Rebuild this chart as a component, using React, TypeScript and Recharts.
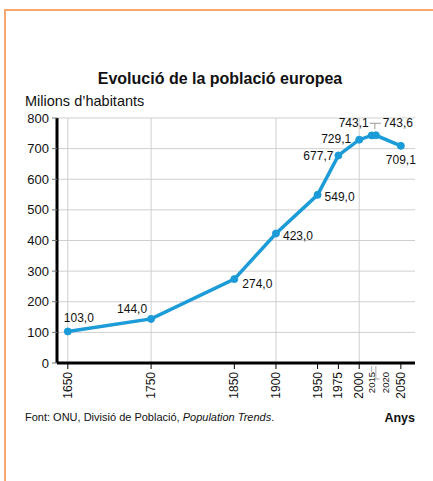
import React from "react";
import {
  LineChart,
  Line,
  XAxis,
  YAxis,
  CartesianGrid,
  LabelList,
  ReferenceLine,
} from "recharts";

const years = [1650, 1750, 1850, 1900, 1950, 1975, 2000, 2015, 2020, 2050];
const population = [103.0, 144.0, 274.0, 423.0, 549.0, 677.7, 729.1, 743.1, 743.6, 709.1];
const yTicks = [0, 100, 200, 300, 400, 500, 600, 700, 800];
const gridYears = [1650, 1750, 1900, 2000];
const smallYears = [2015, 2020];

const data = years.map((year, i) => ({ year, value: population[i] }));

const FONT = "'Liberation Sans', Arial, Helvetica, sans-serif";
const BLUE = "#1b9bd7";

// label offsets from each point: [dx, dy, anchor]
const labelPlacement: [number, number, string][] = [
  [-4, -9, "start"],
  [-4, -6, "end"],
  [8, 9, "start"],
  [7, 7, "start"],
  [7, 6, "start"],
  [-5, 5, "end"],
  [-8, 3, "end"],
  [-3, -8, "end"],
  [7, -8, "start"],
  [0, 18, "middle"],
];

const fmt = (v: number) => v.toFixed(1).replace(".", ",");

const PointLabel = (props: any) => {
  const { index, value } = props;
  const x = props.x ?? props.viewBox?.x;
  const y = props.y ?? props.viewBox?.y;
  const [dx, dy, anchor] = labelPlacement[index];
  return (
    <g>
      {index === 8 && (
        <g stroke="#999" strokeWidth={1} fill="none">
          <line x1={x - 6} x2={x + 5} y1={y - 12} y2={y - 12} />
          <line x1={x - 1} x2={x - 1} y1={y - 12} y2={y - 6} />
        </g>
      )}
      <text
        x={x + dx}
        y={y + dy}
        textAnchor={anchor as any}
        fontSize={12}
        fontFamily={FONT}
        fill="#111"
      >
        {fmt(value)}
      </text>
    </g>
  );
};

const YearTick = (props: any) => {
  const { x, y, payload } = props;
  const v = payload.value as number;
  const small = smallYears.includes(v);
  const dx = v === 2020 ? 10 : 0;
  return (
    <g>
      {small ? (
        v === 2020 ? (
          <polyline
            points={`${x},${y + 3} ${x},${y + 16} ${x + 4},${y + 16}`}
            stroke="#aaa"
            fill="none"
          />
        ) : (
          <line x1={x} x2={x} y1={y + 3} y2={y + 9} stroke="#aaa" />
        )
      ) : (
        <line x1={x} x2={x} y1={y} y2={y + 6} stroke="#000" />
      )}
      <text
        transform={`translate(${x + dx},${y + 9}) rotate(-90)`}
        textAnchor="end"
        dominantBaseline="central"
        fontSize={small ? 9.5 : 12}
        fontFamily={FONT}
        fill="#111"
      >
        {v}
      </text>
    </g>
  );
};

export default function App() {
  return (
    <div
      style={{
        position: "absolute",
        left: 0,
        top: 0,
        width: 433,
        height: 481,
        background: "#fff",
        overflow: "hidden",
      }}
    >
      <div
        style={{
          position: "absolute",
          left: 4,
          top: 9,
          width: 460,
          height: 500,
          border: "2px solid #f7a674",
        }}
      />
      <div style={{ position: "absolute", left: 0, top: 0 }}>
        <LineChart
          width={433}
          height={481}
          data={data}
          margin={{ top: 118, right: 18, left: 20, bottom: 78 }}
        >
          <CartesianGrid vertical={false} stroke="#cfcfcf" />
          {gridYears.map((y) => (
            <ReferenceLine key={y} x={y} stroke="#cfcfcf" />
          ))}
          <XAxis
            dataKey="year"
            type="number"
            domain={[1637, 2067]}
            ticks={years}
            interval={0}
            height={40}
            tickSize={0}
            tickMargin={0}
            tickLine={false}
            axisLine={{ stroke: "#000", strokeWidth: 3 }}
            tick={<YearTick />}
          />
          <YAxis
            domain={[0, 800]}
            ticks={yTicks}
            interval={0}
            width={37}
            tickSize={5}
            tickMargin={3}
            tickLine={{ stroke: "#777" }}
            axisLine={{ stroke: "#000", strokeWidth: 3 }}
            tick={{ fontSize: 13, fontFamily: FONT, fill: "#111" }}
          />
          <Line
            dataKey="value"
            type="linear"
            stroke={BLUE}
            strokeWidth={3.5}
            dot={{ r: 3.5, fill: BLUE, stroke: BLUE, strokeWidth: 1 }}
            isAnimationActive={false}
          >
            <LabelList dataKey="value" content={<PointLabel />} />
          </Line>
        </LineChart>
      </div>
      <svg
        width={433}
        height={481}
        style={{ position: "absolute", left: 0, top: 0, pointerEvents: "none" }}
      >
        <text
          x={220}
          y={84}
          textAnchor="middle"
          fontSize={16}
          fontWeight="bold"
          fontFamily={FONT}
          fill="#111"
        >
          Evolució de la població europea
        </text>
        <text x={25} y={106} fontSize={14.5} fontFamily={FONT} fill="#111">
          Milions d’habitants
        </text>
        <text x={25} y={421} fontSize={11} fontFamily={FONT} fill="#111">
          Font: ONU, Divisió de Població, <tspan fontStyle="italic">Population Trends</tspan>.
        </text>
        <text
          x={415}
          y={422}
          textAnchor="end"
          fontSize={12.5}
          fontWeight="bold"
          fontFamily={FONT}
          fill="#111"
        >
          Anys
        </text>
      </svg>
    </div>
  );
}
